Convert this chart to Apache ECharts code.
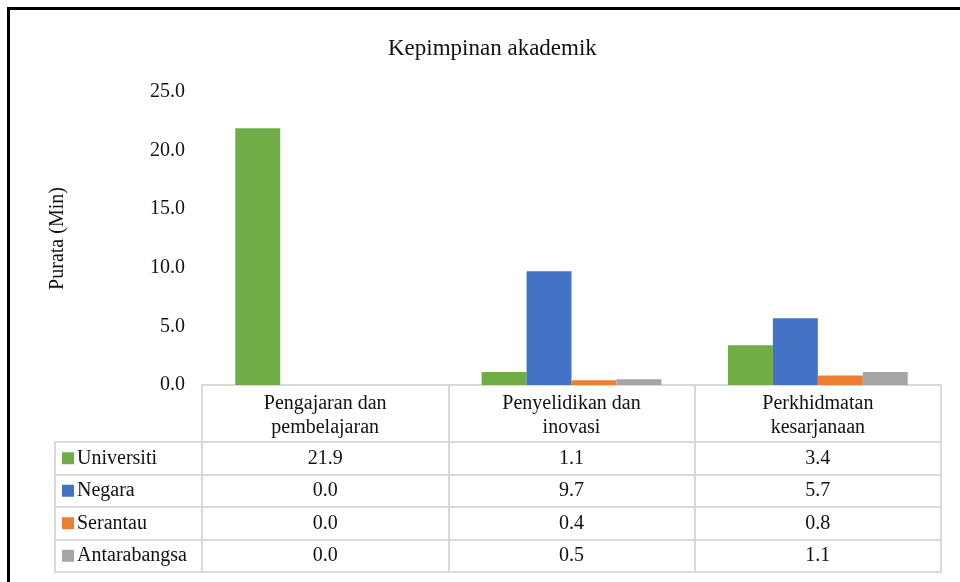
<!DOCTYPE html>
<html>
<head>
<meta charset="utf-8">
<script src="https://cdn.jsdelivr.net/npm/echarts@6/dist/echarts.min.js"></script>
<style>
  html, body { margin: 0; padding: 0; background: #fff; overflow: hidden; }
  #chart { position: absolute; left: 0; top: 0; width: 960px; height: 582px; }
  #frame { position: absolute; left: 7px; top: 7px; right: 0; bottom: 0;
           border-left: 3px solid #000; border-top: 3px solid #000; pointer-events: none; }
</style>
</head>
<body>
<div id="chart"></div>
<div id="frame"></div>
<script>
// Mean minutes of academic leadership, per area and level
const categories = ['Pengajaran dan\npembelajaran', 'Penyelidikan dan\ninovasi', 'Perkhidmatan\nkesarjanaan'];
const seriesNames = ['Universiti', 'Negara', 'Serantau', 'Antarabangsa'];
const universiti = [21.9, 1.1, 3.4];
const negara = [0.0, 9.7, 5.7];
const serantau = [0.0, 0.4, 0.8];
const antarabangsa = [0.0, 0.5, 1.1];
const yMin = 0, yMax = 25, yStep = 5;

const values = [universiti, negara, serantau, antarabangsa];
const colors = ['#70AD47', '#4472C4', '#ED7D31', '#A5A5A5'];
const FONT = '"Liberation Serif", "Times New Roman", serif';
const TEXT = '#111';
const RULE = '#d9d9d9';

// Data table cells: [category index, series index, value]
const cells = [];
values.forEach((arr, s) => arr.forEach((v, c) => cells.push([c, s, v])));

const rich = { n: { fontFamily: FONT, fontSize: 20, color: TEXT, padding: [0, 0, 0, 3] } };
colors.forEach((c, i) => { rich['s' + i] = { width: 12, height: 12, backgroundColor: c }; });

const chart = echarts.init(document.getElementById('chart'));
chart.setOption({
  animation: false,
  title: {
    text: 'Kepimpinan akademik',
    left: 383, top: 32,
    textStyle: { fontFamily: FONT, fontSize: 23, fontWeight: 'normal', color: TEXT }
  },
  grid: [
    { left: 202, right: 19, top: 92, bottom: 197 },
    { left: 202, right: 19, top: 442, bottom: 10, show: true, borderColor: RULE, borderWidth: 2 },
    { left: 55, width: 147, top: 442, bottom: 10, show: true, borderColor: RULE, borderWidth: 2 }
  ],
  xAxis: [
    {
      gridIndex: 0, type: 'category', data: categories,
      axisLine: { lineStyle: { color: RULE, width: 2 } },
      axisTick: { show: true, length: 57, interval: 0, lineStyle: { color: RULE, width: 2 } },
      axisLabel: { interval: 0, margin: 7, fontFamily: FONT, fontSize: 20, lineHeight: 24, color: TEXT }
    },
    {
      gridIndex: 1, type: 'category', data: categories,
      axisLine: { show: false }, axisTick: { show: false }, axisLabel: { show: false },
      splitLine: { show: true, interval: 0, lineStyle: { color: RULE, width: 2 } }
    },
    { gridIndex: 2, type: 'value', show: false }
  ],
  yAxis: [
    {
      gridIndex: 0, type: 'value', min: yMin, max: yMax, interval: yStep,
      axisLine: { show: false }, axisTick: { show: false }, splitLine: { show: false },
      axisLabel: { margin: 17, fontFamily: FONT, fontSize: 20, color: TEXT, formatter: v => v.toFixed(1) },
      name: 'Purata (Min)', nameLocation: 'middle', nameGap: 134, nameRotate: 90,
      nameTextStyle: { fontFamily: FONT, fontSize: 20, color: TEXT }
    },
    {
      gridIndex: 1, type: 'category', data: seriesNames, inverse: true,
      axisLine: { show: false }, axisTick: { show: false }, axisLabel: { show: false },
      splitLine: { show: true, interval: 0, lineStyle: { color: RULE, width: 2 } }
    },
    {
      gridIndex: 2, type: 'category', data: seriesNames, inverse: true,
      axisLine: { show: false }, axisTick: { show: false },
      splitLine: { show: true, interval: 0, lineStyle: { color: RULE, width: 2 } },
      axisLabel: {
        inside: true, margin: 7, align: 'left', interval: 0,
        formatter: (v, i) => '{s' + i + '|}{n|' + v + '}', rich: rich
      }
    }
  ],
  series: seriesNames.map((name, i) => ({
    name: name, type: 'bar', xAxisIndex: 0, yAxisIndex: 0,
    data: values[i], itemStyle: { color: colors[i] },
    barGap: '0%', barCategoryGap: '27%'
  })).concat([{
    type: 'custom', xAxisIndex: 1, yAxisIndex: 1, data: cells,
    renderItem: (params, api) => {
      const p = api.coord([api.value(0), api.value(1)]);
      return {
        type: 'text', x: p[0], y: p[1],
        style: {
          text: Number(api.value(2)).toFixed(1), align: 'center', verticalAlign: 'middle',
          fontFamily: FONT, fontSize: 20, fill: TEXT
        }
      };
    }
  }])
});
</script>
</body>
</html>
